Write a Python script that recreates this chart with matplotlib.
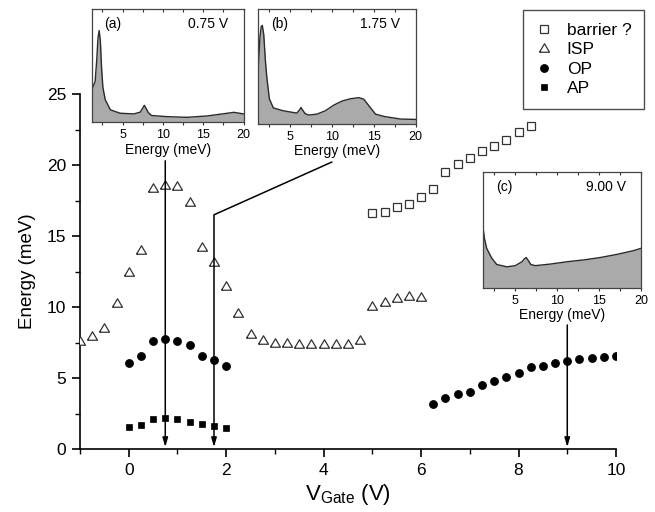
import matplotlib
matplotlib.use("Agg")
import matplotlib.pyplot as plt
from matplotlib.ticker import MultipleLocator

plt.rcParams['font.family'] = ['Liberation Sans', 'DejaVu Sans']
plt.rcParams['mathtext.fontset'] = 'custom'
plt.rcParams['mathtext.rm'] = 'Liberation Sans'
plt.rcParams['mathtext.it'] = 'Liberation Sans'

# ---------------- data ----------------
isp_x = [-1.0, -0.75, -0.5, -0.25, 0.0, 0.25, 0.5, 0.75, 1.0, 1.25, 1.5, 1.75, 2.0,
         2.25, 2.5, 2.75, 3.0, 3.25, 3.5, 3.75, 4.0, 4.25, 4.5, 4.75,
         5.0, 5.25, 5.5, 5.75, 6.0]
isp_y = [7.64, 7.95, 8.55, 10.29, 12.5, 14.0, 18.4, 18.63, 18.5, 17.4, 14.2, 13.17, 11.48,
         9.56, 8.08, 7.7, 7.47, 7.47, 7.4, 7.4, 7.4, 7.4, 7.4, 7.69,
         10.1, 10.38, 10.62, 10.8, 10.69]

op_x = [0.0, 0.25, 0.5, 0.75, 1.0, 1.25, 1.5, 1.75, 2.0,
        6.25, 6.5, 6.75, 7.0, 7.25, 7.5, 7.75, 8.0, 8.25, 8.5, 8.75, 9.0, 9.25, 9.5, 9.75, 10.0]
op_y = [6.09, 6.54, 7.62, 7.76, 7.62, 7.36, 6.54, 6.26, 5.89,
        3.21, 3.58, 3.89, 4.03, 4.5, 4.8, 5.06, 5.39, 5.76, 5.88, 6.09, 6.21, 6.35, 6.44, 6.49, 6.54]

ap_x = [0.0, 0.25, 0.5, 0.75, 1.0, 1.25, 1.5, 1.75, 2.0]
ap_y = [1.59, 1.73, 2.11, 2.18, 2.11, 1.94, 1.78, 1.64, 1.52]

barrier_x = [5.0, 5.25, 5.5, 5.75, 6.0, 6.25, 6.5, 6.75, 7.0, 7.25, 7.5, 7.75, 8.0, 8.25]
barrier_y = [16.64, 16.71, 17.04, 17.25, 17.76, 18.3, 19.5, 20.1, 20.53, 20.98, 21.35, 21.77, 22.36, 22.73]

# spectra (energy in meV, relative intensity 0..1 of inset height)
spec_a_e = [1.25, 1.6, 1.8, 1.95, 2.1, 2.25, 2.4, 2.56, 2.85, 3.5, 4.7, 6.4, 7.2, 7.5, 7.7, 7.9, 8.2, 8.6,
            10.5, 13.0, 15.5, 18.0, 18.8, 20.0]
spec_a_i = [0.30, 0.36, 0.55, 0.74, 0.81, 0.72, 0.48, 0.31, 0.20, 0.11, 0.08, 0.074, 0.09, 0.125, 0.15, 0.125, 0.085, 0.06,
            0.05, 0.044, 0.056, 0.08, 0.088, 0.074]

spec_b_e = [1.2, 1.4, 1.55, 1.68, 1.85, 2.05, 2.2, 2.52, 3.0, 4.2, 5.8, 6.1, 6.3, 6.5, 6.8, 7.2, 8.2, 9.2, 10.2,
            11.2, 12.2, 13.2, 13.8, 14.4, 15.2, 16.2, 18.2, 20.0]
spec_b_i = [0.50, 0.76, 0.85, 0.86, 0.78, 0.55, 0.42, 0.22, 0.14, 0.115, 0.095, 0.12, 0.144, 0.12, 0.09, 0.078, 0.086, 0.115, 0.164,
            0.20, 0.22, 0.23, 0.216, 0.16, 0.086, 0.066, 0.043, 0.04]

spec_c_e = [1.2, 1.35, 1.6, 2.2, 2.8, 4.0, 5.0, 5.8, 6.1, 6.3, 6.55, 6.85, 7.4, 9.2, 11.2, 13.2, 15.1, 17.1, 19.1, 20.0]
spec_c_i = [0.50, 0.42, 0.34, 0.255, 0.20, 0.18, 0.19, 0.224, 0.25, 0.26, 0.235, 0.20, 0.19, 0.204, 0.224, 0.24, 0.26,
            0.287, 0.32, 0.34]

spec_labels = ['(a)', '(b)', '(c)']
spec_voltages = [0.75, 1.75, 9.00]
spec_vlabels = ['0.75 V', '1.75 V', '9.00 V']

# ---------------- figure ----------------
W, H = 655, 512
fig = plt.figure(figsize=(W / 100, H / 100), dpi=100)

def fr(x0, y0, x1, y1):
    """pixel box (left, top, right, bottom) -> figure fraction rect"""
    return [x0 / W, 1 - y1 / H, (x1 - x0) / W, (y1 - y0) / H]

ax = fig.add_axes(fr(80, 94, 616, 449.3))
ax.set_xlim(-1, 10)
ax.set_ylim(0, 25)
for s in ['top', 'right']:
    ax.spines[s].set_visible(False)
for s in ['left', 'bottom']:
    ax.spines[s].set_linewidth(1.2)
ax.xaxis.set_major_locator(MultipleLocator(2))
ax.xaxis.set_minor_locator(MultipleLocator(1))
ax.yaxis.set_major_locator(MultipleLocator(5))
ax.yaxis.set_minor_locator(MultipleLocator(2.5))
ax.tick_params(which='major', direction='out', length=6, width=1.2, labelsize=12.5, pad=4)
ax.tick_params(which='minor', direction='out', length=3.5, width=1.0)
ax.set_xlabel(r'V$_{\mathrm{Gate}}$ (V)', fontsize=16, labelpad=3)
ax.set_ylabel('Energy (meV)', fontsize=13.5, labelpad=8)

tri = [(-1, -0.75), (1, -0.75), (0, 0.95), (-1, -0.75)]
mec = '#333333'
ax.plot(barrier_x, barrier_y, ls='none', marker='s', ms=5.2, mfc='white', mec=mec, mew=0.9,
        zorder=3, label='barrier ?')
ax.plot(isp_x, isp_y, ls='none', marker=tri, ms=7.2, mfc='white', mec=mec, mew=0.9,
        zorder=3, label='ISP')
ax.plot(op_x, op_y, ls='none', marker='o', ms=5.8, mfc='black', mec='black', mew=0.5,
        zorder=3, label='OP')
ax.plot(ap_x, ap_y, ls='none', marker='s', ms=5.0, mfc='black', mec='black', mew=0.5,
        zorder=3, label='AP')

# arrows from the insets to the gate voltages
arrow_tops = [20.3, 16.5, 8.75]
aprops = dict(arrowstyle='-|>,head_length=0.45,head_width=0.13', color='black', lw=1.1,
              shrinkA=0, shrinkB=0, mutation_scale=12)
for v, top in zip(spec_voltages, arrow_tops):
    ax.annotate('', xy=(v, 0.15), xytext=(v, top), arrowprops=aprops, zorder=4)
ax.plot([spec_voltages[1], 4.18], [arrow_tops[1], 20.23], color='black', lw=1.1, zorder=4,
        solid_capstyle='butt')

# legend
leg = ax.legend(loc='upper left', bbox_to_anchor=(523.3 / W, 1 - 10 / H),
                bbox_transform=fig.transFigure, borderaxespad=0, fontsize=12.5,
                handlelength=0.9, handletextpad=0.85, borderpad=0.75, labelspacing=0.24,
                fancybox=False, frameon=True, edgecolor='#222222', numpoints=1)
leg.get_frame().set_linewidth(1.0)

# insets
inset_boxes = [(92.3, 9, 243.5, 122.3), (258.3, 9.3, 415.7, 124), (483.3, 171.7, 641.3, 287.7)]
inset_xmin = [1.25, 1.2, 1.2]
spectra = [(spec_a_e, spec_a_i), (spec_b_e, spec_b_i), (spec_c_e, spec_c_i)]
for box, xmin, (e, i), lab, vlab in zip(inset_boxes, inset_xmin, spectra, spec_labels, spec_vlabels):
    ia = fig.add_axes(fr(*box))
    ia.fill_between(e, 0, i, color='#aaaaaa', lw=0, zorder=1)
    ia.plot(e, i, color='#2a2a2a', lw=1.0, zorder=2)
    ia.set_xlim(xmin, 20)
    ia.set_ylim(0, 1)
    ia.set_yticks([])
    ia.xaxis.set_major_locator(MultipleLocator(5))
    ia.xaxis.set_minor_locator(MultipleLocator(2.5))
    ia.tick_params(axis='x', which='both', direction='out', length=2.5, width=0.8,
                   labelsize=9, pad=2.5, colors='#333333', labelcolor='black')
    top_ax = ia.secondary_xaxis('top')
    top_ax.xaxis.set_major_locator(MultipleLocator(2.5))
    top_ax.tick_params(axis='x', which='both', direction='in', length=2.5, width=0.8,
                       labeltop=False, colors='#333333')
    top_ax.spines['top'].set_visible(False)
    for s in ia.spines.values():
        s.set_linewidth(0.9)
        s.set_color('#444444')
    ia.set_xlabel('Energy (meV)', fontsize=10, labelpad=1)
    ia.text(0.08, 0.87, lab, transform=ia.transAxes, fontsize=10, ha='left', va='center')
    ia.text(0.90, 0.87, vlab, transform=ia.transAxes, fontsize=10, ha='right', va='center')

fig.savefig('out.png', dpi=100)
